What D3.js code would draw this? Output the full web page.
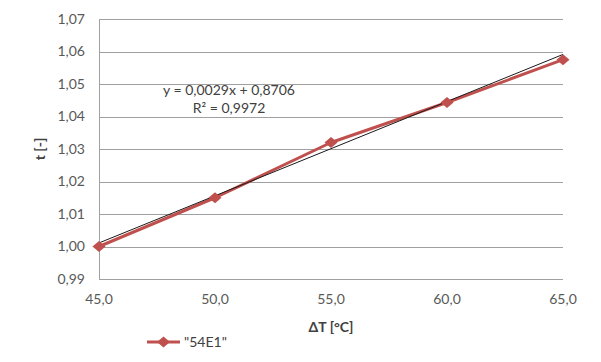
<!DOCTYPE html>
<html>
<head>
<meta charset="utf-8">
<script src="https://cdn.jsdelivr.net/npm/d3@7"></script>
<style>
    body { margin: 0; background: #fff; }
    svg { display: block; font-family: Lato, "Open Sans", sans-serif; }
</style>
</head>
<body>
<svg id="chart" width="601" height="362"></svg>
<script>
// values
var deltaT = [45, 50, 55, 60, 65];
var tValues = [1.000, 1.015, 1.032, 1.0443, 1.0575];
var yTicks = [0.99, 1.00, 1.01, 1.02, 1.03, 1.04, 1.05, 1.06, 1.07];
var xTicks = [45, 50, 55, 60, 65];
var trendSlope = 0.0029;
var trendIntercept = 0.8706;
var trendLabel = ['y = 0,0029x + 0,8706', 'R² = 0,9972'];
var seriesName = '"54E1"';

const width = 601;
const height = 362;
const margin = { top: 19, right: 38, bottom: 83, left: 99 };

var svg = d3.select('#chart');

var x = d3.scaleLinear().domain([45, 65]).range([margin.left, width - margin.right]);
var y = d3.scaleLinear().domain([0.99, 1.07]).range([height - margin.bottom, margin.top]);

const comma = (d, n) => d.toFixed(n).replace('.', ',');

// gridlines
svg.append('g')
    .selectAll('line')
    .data(yTicks)
    .enter()
    .append('line')
    .attr('x1', x(45))
    .attr('x2', x(65))
    .attr('y1', (d) => Math.round(y(d)) + 0.5)
    .attr('y2', (d) => Math.round(y(d)) + 0.5)
    .style('stroke', '#a0a0a0')
    .style('stroke-width', 1);

// left axis line
svg.append('line')
    .attr('x1', x(45) + 0.5)
    .attr('x2', x(45) + 0.5)
    .attr('y1', y(1.07))
    .attr('y2', y(0.99))
    .style('stroke', '#a0a0a0');

// y tick labels
svg.append('g')
    .selectAll('text')
    .data(yTicks)
    .enter()
    .append('text')
    .attr('x', x(45) - 14)
    .attr('y', (d) => y(d))
    .attr('dy', '0.35em')
    .attr('text-anchor', 'end')
    .style('font-size', '14px')
    .style('fill', '#595959')
    .text((d) => comma(d, 2));

// x tick labels
svg.append('g')
    .selectAll('text')
    .data(xTicks)
    .enter()
    .append('text')
    .attr('x', (d) => x(d))
    .attr('y', y(0.99) + 25)
    .attr('text-anchor', 'middle')
    .style('font-size', '14px')
    .style('fill', '#595959')
    .text((d) => comma(d, 1));

// axis titles
svg.append('text')
    .attr('x', x(55))
    .attr('y', 332)
    .attr('text-anchor', 'middle')
    .style('font-size', '14px')
    .style('font-weight', 'bold')
    .style('fill', '#404040')
    .text('ΔT [°C]');

svg.append('text')
    .attr('transform', 'translate(45,' + y(1.03) + ') rotate(-90)')
    .attr('text-anchor', 'middle')
    .style('font-size', '14px')
    .style('font-weight', 'bold')
    .style('fill', '#404040')
    .text('t [-]');

// data series
var line = d3.line()
    .x((d, i) => x(deltaT[i]))
    .y((d) => y(d));

svg.append('path')
    .datum(tValues)
    .attr('d', line)
    .style('fill', 'none')
    .style('stroke', '#c0504d')
    .style('stroke-width', 3)
    .style('stroke-linejoin', 'round');

// linear trend line
svg.append('line')
    .attr('x1', x(45))
    .attr('y1', y(trendSlope * 45 + trendIntercept))
    .attr('x2', x(65))
    .attr('y2', y(trendSlope * 65 + trendIntercept))
    .style('stroke', '#1a1a1a')
    .style('stroke-width', 1);

// excel-like diamond, a bit wider than tall
const diamond = 'M0,-5.5L6.5,0L0,5.5L-6.5,0Z';

svg.append('g')
    .selectAll('path')
    .data(tValues)
    .enter()
    .append('path')
    .attr('d', diamond)
    .attr('transform', (d, i) => 'translate(' + x(deltaT[i]) + ',' + y(d) + ')')
    .style('fill', '#c0504d');

// trend equation
svg.append('g')
    .selectAll('text')
    .data(trendLabel)
    .enter()
    .append('text')
    .attr('x', 229)
    .attr('y', (d, i) => 95 + i * 18)
    .attr('text-anchor', 'middle')
    .style('font-size', '14px')
    .style('fill', '#404040')
    .text((d) => d);

// legend
var legend = svg.append('g').attr('transform', 'translate(147,342)');
legend.append('line')
    .attr('x1', 0)
    .attr('x2', 33)
    .style('stroke', '#c0504d')
    .style('stroke-width', 3);
legend.append('path')
    .attr('d', diamond)
    .attr('transform', 'translate(16.5,0)')
    .style('fill', '#c0504d');
legend.append('text')
    .attr('x', 37)
    .attr('dy', '0.35em')
    .style('font-size', '14px')
    .style('fill', '#404040')
    .text(seriesName);
</script>
</body>
</html>
